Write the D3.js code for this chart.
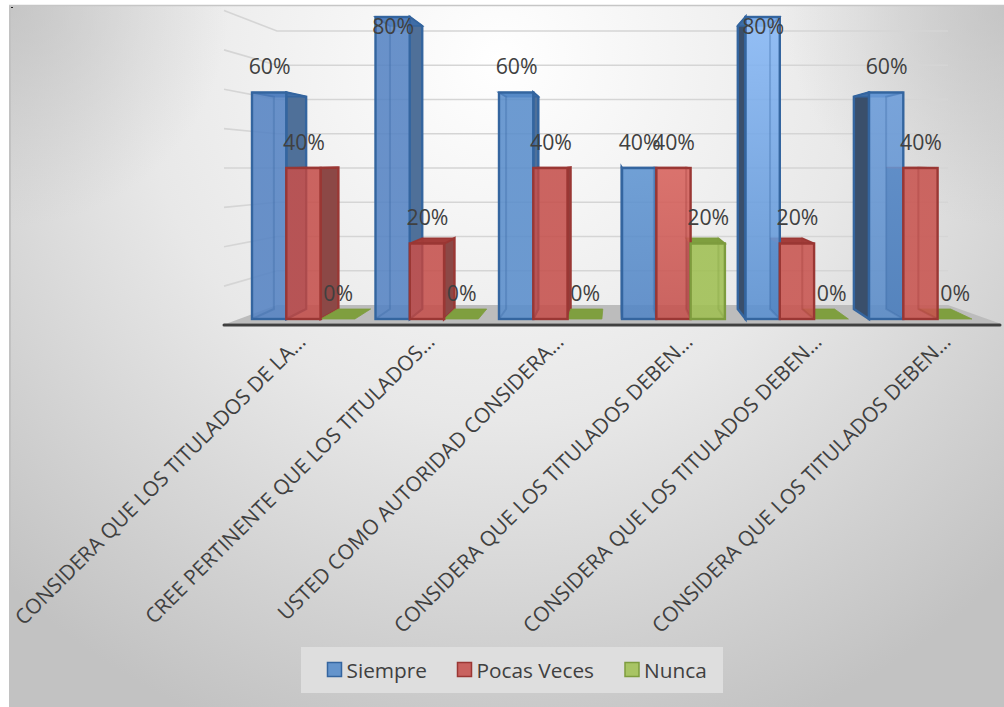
<!DOCTYPE html>
<html>
<head>
<meta charset="utf-8">
<script src="https://cdn.jsdelivr.net/npm/d3@7/dist/d3.min.js"></script>
<style>
html,body{margin:0;padding:0;background:#fff;}
svg{display:block;}
text{font-family:"Open Sans","Noto Sans",sans-serif;}
</style>
</head>
<body>
<svg id="chart" width="1004" height="707"></svg>
<script>
// Survey answers per question, shown as shares of respondents
const categories = [
  "CONSIDERA QUE LOS TITULADOS DE LA…",
  "CREE PERTINENTE QUE LOS TITULADOS…",
  "USTED COMO AUTORIDAD CONSIDERA…",
  "CONSIDERA QUE LOS TITULADOS DEBEN…",
  "CONSIDERA QUE LOS TITULADOS DEBEN…",
  "CONSIDERA QUE LOS TITULADOS DEBEN…"
];
const seriesNames = ["Siempre", "Pocas Veces", "Nunca"];
const siempre = [0.6, 0.8, 0.6, 0.4, 0.8, 0.6];
const pocasVeces = [0.4, 0.2, 0.4, 0.4, 0.2, 0.4];
const nunca = [0, 0, 0, 0.2, 0, 0];
const gridTicks = [0.1, 0.2, 0.3, 0.4, 0.5, 0.6, 0.7, 0.8];

const fills = ["#6494cc", "#c9625f", "#a8c464"];
const strokes = ["#34659f", "#9a3734", "#7d9c3e"];
const sideFills = ["#4f7099", "#8c4846", "#7f9b45"];
const topFills = ["#3f6da6", "#a33d3a", "#7f9f3f"];
const leftWall = "#3a4f6b";

// Lighting on the front faces: [top colour, bottom colour] per question
const faceLight = [
  [["#5583c3", "#5583c3"], ["#c5504c", "#c5504c"], ["#9fbf52", "#9fbf52"]],
  [["#5583c3", "#5583c3"], ["#c5504c", "#c5504c"], ["#9fbf52", "#9fbf52"]],
  [["#598dcb", "#598dcb"], ["#c5504c", "#c5504c"], ["#9fbf52", "#9fbf52"]],
  [["#5e94d1", "#5285c5"], ["#d7615b", "#c5514d"], ["#9fbf52", "#9fbf52"]],
  [["#87b8f6", "#598fd0"], ["#c8544f", "#c8544f"], ["#9fbf52", "#9fbf52"]],
  [["#6b9cda", "#598bc8"], ["#c8544f", "#c8544f"], ["#9fbf52", "#9fbf52"]]
];

const svg = d3.select("#chart");
const defs = svg.append("defs");

// Chart area background: white at upper centre, grey toward the edges and corners
const bg = defs.append("radialGradient").attr("id", "bg")
  .attr("gradientUnits", "userSpaceOnUse")
  .attr("cx", 500).attr("cy", 60).attr("r", 720);
bg.append("stop").attr("offset", "0").attr("stop-color", "#ffffff");
bg.append("stop").attr("offset", "0.5").attr("stop-color", "#e8e8e8");
bg.append("stop").attr("offset", "1").attr("stop-color", "#c2c2c2");
[["cornerL", 9], ["cornerR", 1004]].forEach(([id, cx]) => {
  const c = defs.append("radialGradient").attr("id", id)
    .attr("gradientUnits", "userSpaceOnUse")
    .attr("cx", cx).attr("cy", 6).attr("r", 220);
  c.append("stop").attr("offset", "0").attr("stop-color", "#b8b8b8").attr("stop-opacity", 0.6);
  c.append("stop").attr("offset", "1").attr("stop-color", "#b8b8b8").attr("stop-opacity", 0);
});

const plate = () => svg.append("rect").attr("x", 9).attr("y", 6).attr("width", 995).attr("height", 701);
plate().attr("fill", "url(#bg)");
plate().attr("fill", "url(#cornerL)");
plate().attr("fill", "url(#cornerR)");
svg.append("line").attr("x1", 9).attr("x2", 1004).attr("y1", 5.5).attr("y2", 5.5)
  .attr("stroke", "#c6c6c6").attr("stroke-width", 1.5);
svg.append("line").attr("x1", 10).attr("x2", 10).attr("y1", 6).attr("y2", 707)
  .attr("stroke", "#c2c2c2").attr("stroke-width", 2);
svg.append("rect").attr("x", 11).attr("y", 7).attr("width", 2).attr("height", 1).attr("fill", "#222");

// Three depth planes of the 3D box: wall front edge, wall back edge, and the bars
const wallFrontY = d3.scaleLinear().domain([0, 0.8]).range([325.5, 10.5]);
const wallBackY = d3.scaleLinear().domain([0, 0.8]).range([305, 31]);
const barFrontY = d3.scaleLinear().domain([0, 0.8]).range([319, 17]);
const barBackY = d3.scaleLinear().domain([0, 0.8]).range([309, 26]);

const groupX = [252, 375.5, 499, 622, 745.5, 869];
const barW = 34.3;

// Perspective: back faces move toward the vanishing column
const vanishX = 617, depth = 0.94;
const backX = xp => vanishX + (xp - vanishX) * depth;

// Back wall gridlines and their slanted returns along the left wall
const wallLeft = 224, backLeft = 277, backRight = 948;
const wall = svg.append("g").attr("stroke", "#d5d5d5").attr("stroke-width", 1.6).attr("fill", "none");
gridTicks.forEach(t => {
  wall.append("path").attr("d", d3.line()([
    [wallLeft, wallFrontY(t)], [backLeft, wallBackY(t)], [backRight, wallBackY(t)]
  ]));
});

// Floor slab and the dark front edge
svg.append("path").attr("d", d3.line()([
  [227, 323.5], [backLeft, wallBackY(0)], [backRight, wallBackY(0)], [1000, 323.5]
]) + "Z").attr("fill", "#bcbcbc");
svg.append("line").attr("x1", 224).attr("x2", 1000).attr("y1", 325).attr("y2", 325)
  .attr("stroke", "#404040").attr("stroke-width", 3).attr("stroke-linecap", "round");

const line = d3.line();

// Side and top faces; these sit behind every front face of the group
function drawDepth(g, xl, value, s) {
  const xr = xl + barW, yF = barFrontY(value), yB = barBackY(value);
  const y0F = barFrontY(0), y0B = barBackY(0);
  const bl = backX(xl), br = backX(xr);
  if (value === 0) {
    g.append("path").attr("d", line([[xl, y0F], [xr, y0F], [br, y0B], [bl, y0B]]) + "Z")
      .attr("fill", topFills[s]).attr("stroke", strokes[s]).attr("stroke-width", 0.8);
    return;
  }
  if (br > xr) {
    g.append("path").attr("d", line([[xr, yF], [br, yB], [br, y0B], [xr, y0F]]) + "Z")
      .attr("fill", sideFills[s]).attr("stroke", strokes[s]).attr("stroke-width", 2.4);
  }
  if (bl < xl) {
    g.append("path").attr("d", line([[xl, yF], [bl, yB], [bl, y0B], [xl, y0F]]) + "Z")
      .attr("fill", leftWall).attr("stroke", s === 0 ? strokes[s] : "none").attr("stroke-width", 2.4);
  }
  g.append("path").attr("d", line([[xl, yF], [xr, yF], [br, yB], [bl, yB]]) + "Z")
    .attr("fill", topFills[s]).attr("stroke", strokes[s]).attr("stroke-width", 1.5);
}

// Translucent front face with the hidden back corner showing through
function drawFront(g, xl, value, s, i) {
  if (value === 0) return;
  const xr = xl + barW, yF = barFrontY(value), yB = barBackY(value);
  const y0F = barFrontY(0), y0B = barBackY(0);
  g.append("rect").attr("x", xl).attr("y", yF).attr("width", barW).attr("height", y0F - yF)
    .attr("fill", `url(#face-${i}-${s})`).attr("fill-opacity", 0.88)
    .attr("stroke", strokes[s]).attr("stroke-width", 2.4);
  const bl = backX(xl), br = backX(xr);
  const edges = [];
  if (bl > xl + 1) edges.push([[xl, yF], [bl, yB], [bl, y0B], [xl, y0F]]);
  if (br < xr - 1) edges.push([[xr, yF], [br, yB], [br, y0B], [xr, y0F]]);
  edges.forEach(pts => g.append("path").attr("d", line(pts)).attr("fill", "none")
    .attr("stroke", strokes[s]).attr("stroke-opacity", 0.3).attr("stroke-width", 2));
}

const seriesValues = [siempre, pocasVeces, nunca];
categories.forEach((c, i) => {
  seriesNames.forEach((n, s) => {
    const grad = defs.append("linearGradient").attr("id", `face-${i}-${s}`)
      .attr("x1", 0).attr("x2", 0).attr("y1", 0).attr("y2", 1);
    grad.append("stop").attr("offset", "0").attr("stop-color", faceLight[i][s][0]);
    grad.append("stop").attr("offset", "1").attr("stop-color", faceLight[i][s][1]);
  });
});

const marks = svg.append("g");
categories.forEach((c, i) => {
  const g = marks.append("g");
  seriesValues.forEach((vals, s) => drawDepth(g, groupX[i] + s * barW, vals[i], s));
  seriesValues.forEach((vals, s) => drawFront(g, groupX[i] + s * barW, vals[i], s, i));
});

// Data labels, held inside the plot where a tall bar would push them out
const labels = svg.append("g").attr("fill", "#404040").attr("font-size", 21.3).attr("text-anchor", "middle");
categories.forEach((c, i) => {
  seriesValues.forEach((vals, s) => {
    const v = vals[i];
    labels.append("text")
      .attr("x", groupX[i] + s * barW + barW / 2 + 0.5)
      .attr("y", Math.max(barFrontY(v) - 18.3, 34))
      .text(d3.format(".0%")(v));
  });
});

// Slanted category labels, anchored at their upper right end
const labelX = d3.scalePoint().domain(d3.range(categories.length)).range([307, 952]);
const cats = svg.append("g").attr("fill", "#404040").attr("font-size", 20.8).attr("text-anchor", "end");
categories.forEach((c, i) => {
  cats.append("text").attr("transform", `translate(${labelX(i)},343) rotate(-45)`).text(c);
});

// Legend
const legend = svg.append("g");
legend.append("rect").attr("x", 301).attr("y", 647).attr("width", 422).attr("height", 46).attr("fill", "#dedede");
const legendX = [327.5, 457.5, 625];
seriesNames.forEach((n, s) => {
  legend.append("rect").attr("x", legendX[s]).attr("y", 662.5).attr("width", 14).attr("height", 14)
    .attr("fill", fills[s]).attr("stroke", strokes[s]).attr("stroke-width", 1.5);
  legend.append("text").attr("x", legendX[s] + 19).attr("y", 677.5).attr("font-size", 20.8)
    .attr("fill", "#404040").text(n);
});
</script>
</body>
</html>
